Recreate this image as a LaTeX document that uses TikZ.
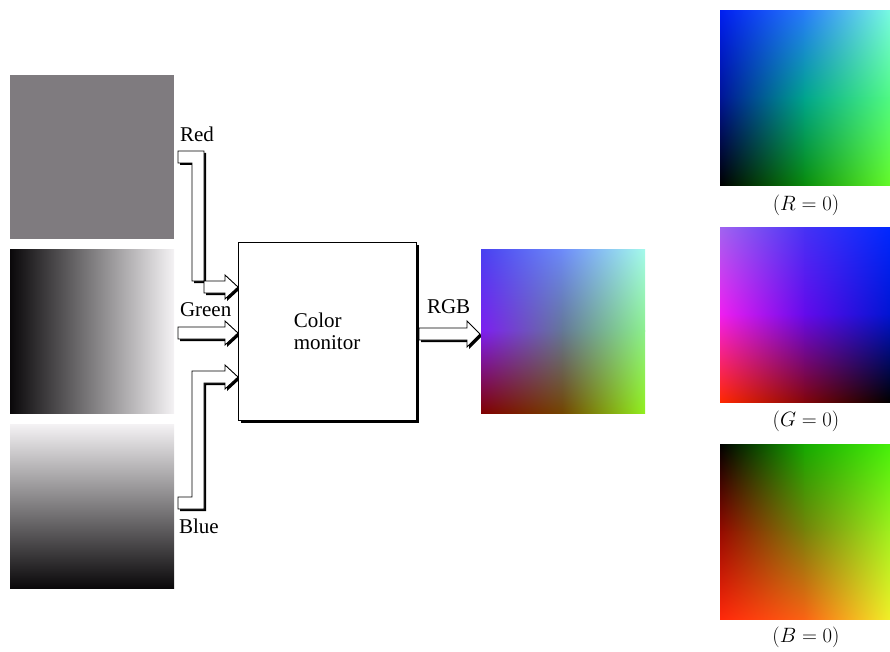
\documentclass[tikz,border=0pt]{standalone}
\usepackage{fontspec}
\setmainfont{Liberation Serif}
\usetikzlibrary{shadows,calc}

\definecolor{midgray}{RGB}{127,123,127}
\definecolor{rampdark}{RGB}{10,8,10}
\definecolor{ramplight}{RGB}{244,242,244}

% ---------------------------------------------------------------
% Bilinear colour patches.  \quadshade{name}{BL}{BR}{TL}{TR} takes
% the four corner colours as r,g,b in 0..255.  The shading square is
% 100bp wide; a shaded path covers its middle part 25bp..75bp.
% ---------------------------------------------------------------
\def\qsplit#1,#2,#3\qend#4{%
  \expandafter\def\csname q#4r\endcsname{#1}%
  \expandafter\def\csname q#4g\endcsname{#2}%
  \expandafter\def\csname q#4b\endcsname{#3}}
% one colour channel: bottom = A+(B-A)x, top = C+(D-C)x, value = bottom+(top-bottom)y
\def\qchan#1#2#3#4#5#6{#1 index #4 #3 sub mul #3 add #2 index #6 #5 sub mul #5 add 1 index sub #2 index mul add 255 div }
\newcommand\quadshade[5]{%
  \qsplit#2\qend{a}\qsplit#3\qend{b}\qsplit#4\qend{c}\qsplit#5\qend{d}%
  \edef\qtmp{\noexpand\pgfdeclarefunctionalshading{#1}{\noexpand\pgfpointorigin}%
    {\noexpand\pgfpoint{100bp}{100bp}}{}{25 sub 50 div exch 25 sub 50 div exch
    \qchan{1}{2}{\qar}{\qbr}{\qcr}{\qdr}\qchan{2}{3}{\qag}{\qbg}{\qcg}{\qdg}%
    \qchan{3}{4}{\qab}{\qbb}{\qcb}{\qdb}5 -2 roll pop pop}}%
  \qtmp}
% an image made of four patches from a 3x3 grid of colours
% #1 prefix, then rows top/mid/bottom, each three colours left/middle/right
\newcommand\gridshade[4]{\def\gpre{#1}\gridshadeB#2;#3;#4;}
\def\gridshadeB#1/#2/#3;#4/#5/#6;#7/#8/#9;{%
  \quadshade{\gpre tl}{#4}{#5}{#1}{#2}%
  \quadshade{\gpre tr}{#5}{#6}{#2}{#3}%
  \quadshade{\gpre bl}{#7}{#8}{#4}{#5}%
  \quadshade{\gpre br}{#8}{#9}{#5}{#6}}

% displayed mixture of the three channels
\gridshade{out}{72,64,240/110,140,250/165,250,235}
               {125,30,240/100,120,150/140,240,140}
               {128,0,0/115,70,0/145,240,30}
% faces of the colour cube
\gridshade{fr}{0,30,240/40,125,250/120,250,225}
              {0,20,150/0,165,140/80,250,130}
              {0,0,0/10,140,10/100,250,40}
\gridshade{fg}{160,100,240/70,50,245/0,40,255}
              {240,30,240/100,10,235/0,20,210}
              {255,40,0/130,5,10/0,0,0}
\gridshade{fb}{0,0,0/20,170,0/70,240,10}
              {150,10,0/120,130,10/160,240,30}
              {255,40,10/250,100,20/240,240,40}

% fill a named node with its four patches
\newcommand\quadimage[2]{%
  \shade[shading=#2tl] (#1.north west) rectangle ($(#1.center)+(0.5,0.5)$);
  \shade[shading=#2tr] ($(#1.north)+(-0.5,0)$) rectangle ($(#1.east)+(0,0.5)$);
  \shade[shading=#2bl] ($(#1.west)+(0,-0.5)$) rectangle ($(#1.south)+(0.5,0)$);
  \shade[shading=#2br] ($(#1.center)+(-0.5,-0.5)$) rectangle (#1.south east);
}

% hollow block arrow with a solid drop shadow
\newcommand\blockarrow[1]{%
  \fill[black, transform canvas={xshift=2pt,yshift=-2pt}] #1;
  \draw[black, line width=0.9pt, fill=white, line join=miter] #1;
}

\begin{document}
\begin{tikzpicture}[x=1pt,y=-1pt,
  every node/.style={inner sep=0pt, outer sep=0pt},
  img/.style={minimum width=164pt, minimum height=164pt},
  face/.style={minimum width=170pt, minimum height=175pt},
  lbl/.style={font=\fontsize{21}{22}\selectfont, anchor=base west},
  facecap/.style={font=\fontsize{20.74}{22}\selectfont},
]
\useasboundingbox (0,0) rectangle (890,652);

% component images
\node[img, fill=midgray] (srcR) at (92,157) {};
\node[img, left color=rampdark, right color=ramplight] (srcG) at (92,331) {};
\node[img, top color=ramplight, bottom color=rampdark] (srcB) at (92,506) {};

% channel labels
\node[lbl] (labR) at (180,142) {Red};
\node[lbl] (labG) at (180,316) {Green};
\node[lbl] (labB) at (179,533) {Blue};
\node[lbl] (labRGB) at (427,313) {RGB};

% arrow tips on the monitor
\coordinate (tipR) at (238,287);
\coordinate (tipG) at (238,333);
\coordinate (tipB) at (238,377);
\coordinate (tipO) at (480,334);

\blockarrow{(tipR) -- ++(-13,12) -- ++(0,-6) -- ++(-21,0) -- ++(0,-142) -- ++(-26,0)
  -- ++(0,12) -- ++(14,0) -- ++(0,118) -- ++(33,0) -- ++(0,-6) -- cycle}
\blockarrow{(tipG) -- ++(-13,12) -- ++(0,-6) -- ++(-47,0) -- ++(0,-12) -- ++(47,0)
  -- ++(0,-6) -- cycle}
\blockarrow{(tipB) -- ++(-13,12) -- ++(0,-6) -- ++(-21,0) -- ++(0,126) -- ++(-26,0)
  -- ++(0,-12) -- ++(14,0) -- ++(0,-126) -- ++(33,0) -- ++(0,-6) -- cycle}

% monitor
\node[draw, line width=0.9pt, fill=white, minimum width=178pt, minimum height=178pt,
  drop shadow={shadow xshift=3pt, shadow yshift=-3pt, fill=black, opacity=1}]
  (mon) at (327,331) {};
\node[lbl, anchor=center, align=left] (montxt) at (327,331) {Color\\monitor};

\blockarrow{(tipO) -- ++(-13,13) -- ++(0,-7) -- ++(-48,0) -- ++(0,-12) -- ++(48,0)
  -- ++(0,-7) -- cycle}

% displayed colour image
\node[img] (out) at (563,331) {};
\quadimage{out}{out}

% faces of the colour cube
\node[face] (faceR) at (805,98.5) {};
\node[face] (faceG) at (805,314.5) {};
\node[face] (faceB) at (805,531.5) {};
\quadimage{faceR}{fr}
\quadimage{faceG}{fg}
\quadimage{faceB}{fb}
\node[facecap] (capR) at (806,205) {$(R = 0)$};
\node[facecap] (capG) at (806,421) {$(G = 0)$};
\node[facecap] (capB) at (806,637) {$(B = 0)$};
\end{tikzpicture}
\end{document}
